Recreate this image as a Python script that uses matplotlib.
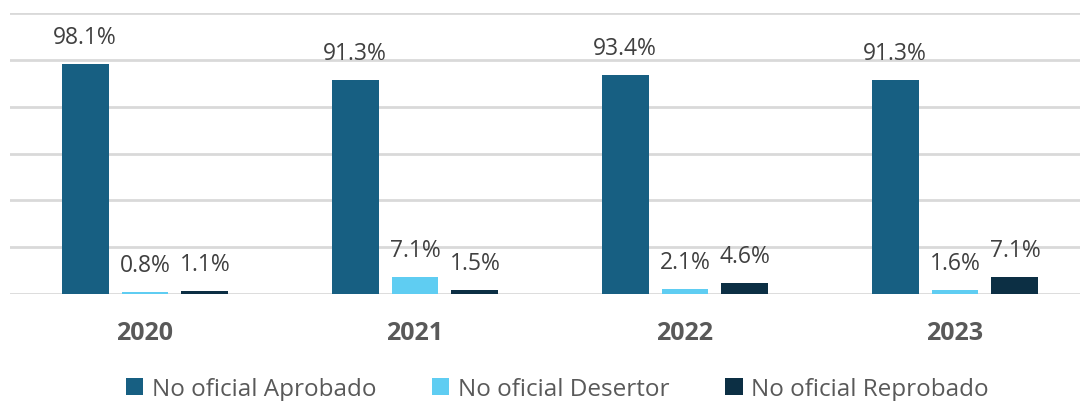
import matplotlib
matplotlib.use("Agg")
import matplotlib.pyplot as plt
import numpy as np

years = ["2020", "2021", "2022", "2023"]
series_names = ["No oficial Aprobado", "No oficial Desertor", "No oficial Reprobado"]
aprobado = [98.1, 91.3, 93.4, 91.3]
desertor = [0.8, 7.1, 2.1, 1.6]
reprobado = [1.1, 1.5, 4.6, 7.1]
colors = ["#175F82", "#5FCDF2", "#0C2F44"]

plt.rcParams['font.family'] = ['Open Sans', 'DejaVu Sans']

fig = plt.figure(figsize=(10.8, 4.02), dpi=100)
ax = fig.add_axes([10/1080, 107/402, 1080/1080, 281/402])

x = np.arange(len(years))
width = 0.174
offset = 0.222
handles = []
for i, (vals, name, c) in enumerate(zip([aprobado, desertor, reprobado], series_names, colors)):
    bars = ax.bar(x + (i - 1) * offset, vals, width=width, color=c, label=name, zorder=3)
    handles.append(bars)
    for b, v in zip(bars, vals):
        ax.annotate(f"{v:.1f}%", (b.get_x() + b.get_width() / 2, v),
                    xytext=(0, 11), textcoords="offset points",
                    ha="center", va="bottom", fontsize=16.5, color="#404040")

ax.set_xlim(-0.5, 3.5)
ax.set_ylim(0, 120)
ax.set_yticks(np.arange(0, 121, 20))
ax.yaxis.grid(True, color="#D9D9D9", linewidth=2, zorder=0)
ax.set_yticklabels([])
ax.tick_params(axis='y', length=0)
ax.tick_params(axis='x', length=0, pad=19)
ax.set_xticks(x)
ax.set_xticklabels(years, fontsize=18, fontweight="bold", color="#595959")
for s in ax.spines.values():
    s.set_visible(False)

fig.legend(handles=handles, labels=series_names, loc="lower center",
           bbox_to_anchor=(0.516, -0.055), ncol=3, frameon=False, fontsize=17.5,
           labelcolor="#595959", handlelength=0.72, handleheight=0.72,
           handletextpad=0.35, columnspacing=2.3)

fig.savefig("out.png", dpi=100)
